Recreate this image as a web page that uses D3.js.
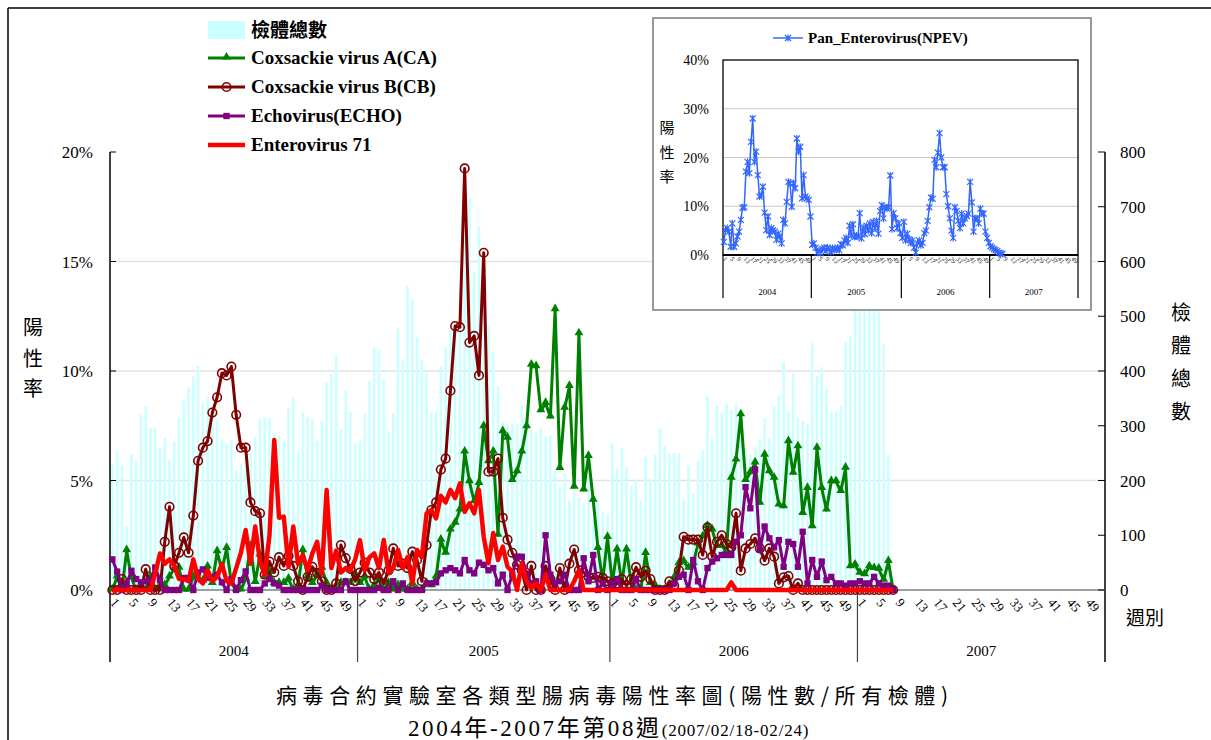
<!DOCTYPE html>
<html><head><meta charset="utf-8">
<script src="https://cdn.jsdelivr.net/npm/d3@7"></script>
<style>
body{margin:0;background:#fff;}
svg{display:block;}
</style></head><body>
<svg id="chart" width="1211" height="740"></svg>
<script>
// ---------- DATA ----------
const years = ["2004","2005","2006","2007"];
const weeksPerYear = [52,53,52,52];
const weekTicks = [1,5,9,13,17,21,25,29,33,37,41,45,49];
const leftTicks = [0,5,10,15,20];
const rightTicks = [0,100,200,300,400,500,600,700,800];
const insetTicks = [0,10,20,30,40];

// total specimens per week (right axis)
const specimens = [
 230,254,228,116,247,236,320,335,296,295,259,278,237,271,314,346,370,390,411,340,353,327,310,274,268,274,218,231,228,250,281,312,315,314,286,281,270,333,352,251,325,316,312,272,309,378,394,429,294,365,325,268,
 272,323,382,443,437,385,290,323,478,420,555,530,462,421,396,324,326,408,444,475,481,490,639,715,581,664,578,484,435,371,307,304,305,302,338,286,292,286,295,280,282,219,189,213,164,177,168,158,207,128,164,143,137,
 267,222,259,225,190,201,164,243,204,247,295,262,250,250,250,166,226,177,237,256,354,275,338,324,341,329,340,300,260,247,262,276,314,277,335,356,417,326,396,314,309,304,451,391,407,367,326,326,335,453,463,560,
 580,600,620,600,560,449,247,0
];
// positive rates (%)
const caRate = [
 0,0.6,0,1.8,0.55,0,0.2,0,0.6,0,0.2,0.2,0.6,1.0,1.0,0,0,0.6,0.55,0.4,1.05,0.3,1.75,0.9,1.9,0.3,0,0,0.5,2.0,0.35,1.6,0.6,0.8,0.3,0.3,0.3,0.5,0,0.2,1.8,0.6,0.3,0.7,1.0,0.3,0,0,0.3,0.3,0.3,0.7,
 0.3,0.6,0,0.2,0.5,0,0.3,0,0.2,0,0,0.3,0,0,0.3,0.2,0.6,2.28,1.68,2.74,3.05,3.65,6.3,4.95,4.03,4.87,7.46,5.86,6.3,2.5,7.23,6.93,5.0,5.4,6.3,7.46,10.27,10.2,8.19,8.52,7.9,12.8,5.55,8.3,9.3,4.7,11.7,4.57,6.1,4.1,1.9,0.4,2.4,
 0.3,1.83,0.3,1.83,0.3,0,0,1.67,0.3,0.2,0,0,0,0.55,1.2,1.3,1.0,1.2,2.1,2.43,2.9,2.74,2.0,2.0,1.8,5.1,5.94,8.0,5.0,5.36,5.8,3.96,6.16,5.4,5.1,3.88,3.8,6.77,5.33,6.54,3.5,4.64,2.89,6.47,4.64,3.65,4.95,4.95,4.5,5.56,1.06,1.14,
 0.77,0.7,1.06,0.98,0.95,0.45,1.3,0
];
const cbRate = [
 0,0,0.5,0,0,0,0,0.95,0,0,0,2.2,3.8,1.1,1.7,2.4,1.7,3.4,5.9,6.5,6.8,8.1,8.8,9.9,9.8,10.2,8.0,6.5,6.5,4.0,3.6,3.5,0.7,1.3,0.8,1.5,1.1,1.55,1.1,0.4,0,0.6,1.06,0.77,0.4,0,0,0.3,2.05,1.46,0.96,0.4,
 0.8,1.25,0.8,0.5,0.8,0.3,0.9,1.9,1.1,1.2,1.0,1.75,1.37,0.4,2.05,3.65,4.0,5.5,6.0,9.1,12.05,12.0,19.25,11.3,11.6,9.8,15.4,5.4,5.4,6.0,3.3,2.3,1.7,1.15,0.9,0,1.1,0,0,1.1,0.5,0,1.0,0,1.2,1.85,0.9,0.8,0.6,0.55,0.6,0.55,0.4,
 0.3,0.3,0.5,0.2,0.5,1.04,0.6,0.88,0.5,0,0,0,0.4,0.2,0.9,2.43,2.3,2.3,2.3,1.6,2.86,1.52,2.2,2.5,2.1,1.95,3.5,0.88,1.9,2.1,2.36,1.9,1.34,1.9,1.52,0.3,0.58,0.64,0,0.3,0,0,0,0,0,0,0,0,0,0,0,0,
 0,0,0,0,0,0,0,0
];
const echoRate = [
 1.4,0.84,0,0.3,0.88,0.5,0.35,0.4,0.45,1.03,0.45,0,0,0,0,0.55,0.55,0,0.8,0.94,0.55,0.6,0.7,0.35,0,0.5,0,0.45,0.85,0,0,0,0.3,0.5,0.3,0.2,0,0,0,0,0,0,0,0,0.2,0,0,0,0,0.4,0,0,
 0,0,0,0,0.1,0,0,0.4,0,0.3,0,0,0,0,0.3,0.3,0.35,0.76,0.9,1.0,0.9,0.76,1.37,0.9,0.76,1.25,1.15,0.9,1.0,0.3,0.7,0,0.7,1.52,1.52,0.75,0.3,0.4,0,2.5,0.7,0.3,0.4,0.7,0,0,0,1.45,0.4,1.6,0,0.3,0,
 0.3,0.5,0,0,0,0.5,0,0,0,0,0,0,0,0.3,0.6,0.7,0,1.37,0.4,0,1.0,1.3,1.45,1.6,1.6,1.6,2.2,2.5,4.7,3.73,5.5,1.83,2.9,2.36,1.95,2.28,1.06,2.2,2.1,1.06,2.66,0.3,1.37,0.6,1.3,0.45,0.6,0.3,0.3,0.2,0.3,0.3,
 0.4,0.3,0.3,0.6,0.3,0.2,0.2,0
];
const ev71Rate = [
 0,0,0,0,0,0,0,0,0,0.75,1.67,1.2,1.4,1.1,0.5,0.5,0.4,1.4,0.5,0.3,0.9,0.4,0.6,1.2,0.4,0.3,1.0,1.7,2.74,1.2,2.9,1.3,0.7,2.5,6.85,3.3,3.35,1.06,2.9,1.2,1.6,0.9,1.67,2.2,0.75,4.57,1.0,1.8,0.8,1.0,0.9,1.4,
 2.28,0.9,1.5,1.67,1.0,2.28,0.8,1.0,1.83,1.0,1.5,0.3,1.83,1.5,3.5,3.65,3.27,4.3,4.0,4.57,4.2,4.87,3.57,3.96,3.5,4.57,2.43,1.22,2.6,1.37,1.98,1.06,0.84,0,1.22,0.4,0.1,0.3,0,0.7,0,0,0,0,0,0.4,0.9,0,0,0,0,0,0,
 0,0,0,0,0,0,0,0,0,0,0,0,0,0,0,0,0,0,0,0,0,0,0,0,0,0.35,0,0,0,0,0,0,0,0,0,0,0,0,0,0,0,0,0,0,0,0,0,0,0,0,0,0,
 0,0,0,0,0,0,0,0
];
const npevRate = [
 2.7,5.1,5.5,4.8,1.7,6.5,1.7,2.4,3.8,4.8,7.2,9.7,9.8,17.1,19.1,16.8,23.2,28.0,19.1,21.2,16.4,12.0,12.3,14.0,8.7,5.1,7.9,4.1,5.5,5.1,4.8,3.1,4.4,3.8,2.4,7.2,6.5,10.9,15.0,14.7,9.9,14.7,13.7,23.9,21.2,22.2,11.6,16.4,12.0,11.6,11.3,7.9,
 2.1,2.4,1.5,0.5,1.0,0.4,1.2,1.5,0.8,1.5,1.2,0.6,1.4,1.0,1.2,1.5,1.0,2.2,2.0,3.0,3.5,2.5,6.0,4.0,6.3,3.7,4.0,3.8,8.6,3.4,5.6,4.3,6.0,5.0,6.5,4.5,6.8,5.5,7.0,4.4,9.0,10.2,7.5,9.8,9.5,9.8,16.3,5.3,8.6,7.5,5.5,6.5,4.5,
 3.5,6.8,3.0,4.4,3.2,2.5,3.0,1.5,0.5,2.5,3.0,2.0,2.5,4.5,5.0,7.0,9.8,11.8,11.5,19.5,18.0,21.0,25.0,20.0,18.0,18.0,12.5,10.0,7.5,5.0,3.5,9.8,9.0,7.0,5.5,8.5,6.5,7.5,8.0,8.5,15.0,10.8,4.8,7.5,7.5,6.5,9.5,8.5,8.5,4.8,3.5,2.5,
 1.8,1.5,1.2,1.0,0.8,0.5,0.3,0.2
];
const legendNames = ["檢體總數","Coxsackie virus A(CA)","Coxsackie virus B(CB)","Echovirus(ECHO)","Enterovirus 71"];
const titleLine1 = "病毒合約實驗室各類型腸病毒陽性率圖(陽性數/所有檢體)";
const titleLine2a = "2004年-2007年第08週";
const titleLine2b = "(2007/02/18-02/24)";

// ---------- CHART ----------
const svg = d3.select("#chart");
const SERIF = "'Liberation Serif','Times New Roman',serif";
const CJK = "'Noto Sans CJK TC','Noto Sans CJK SC',sans-serif";

const cats = [];
years.forEach((y, yi) => { for (let w = 1; w <= weeksPerYear[yi]; w++) cats.push({key: y + "-" + w, year: y, week: w}); });
const keys = cats.map(c => c.key);

const L = 110, R = 1105, T = 152, B = 590;
const x = d3.scaleBand().domain(keys).range([L, R]);
const cx = i => x(keys[i]) + x.bandwidth() / 2;
const yL = d3.scaleLinear().domain([0, 20]).range([B, T]);
const yR = d3.scaleLinear().domain([0, 800]).range([B, T]);

// outer frame
svg.append("line").attr("x1", 8).attr("x2", 1211).attr("y1", 8).attr("y2", 8).attr("stroke", "#000").attr("stroke-width", 1.5);
svg.append("line").attr("x1", 8).attr("x2", 8).attr("y1", 8).attr("y2", 740).attr("stroke", "#000").attr("stroke-width", 1.5);

// gridlines
svg.append("g").selectAll("line").data(leftTicks.filter(t => t > 0 && t < 20)).join("line")
  .attr("x1", L).attr("x2", R).attr("y1", d => yL(d)).attr("y2", d => yL(d))
  .attr("stroke", "#e2e2e2").attr("stroke-width", 1.5);

// bars
const bw = x.bandwidth() * 0.55;
svg.append("g").selectAll("rect").data(specimens).join("rect")
  .attr("x", (d, i) => cx(i) - bw / 2).attr("width", bw)
  .attr("y", d => yR(d)).attr("height", d => B - yR(d))
  .attr("fill", "#ccffff");

// axes
svg.append("line").attr("x1", L).attr("x2", L).attr("y1", T).attr("y2", 662).attr("stroke", "#000").attr("stroke-width", 1.5);
svg.append("line").attr("x1", R).attr("x2", R).attr("y1", T).attr("y2", 662).attr("stroke", "#000").attr("stroke-width", 1.5);
svg.append("line").attr("x1", L).attr("x2", R).attr("y1", B).attr("y2", B).attr("stroke", "#808080").attr("stroke-width", 1.5);

const gl = svg.append("g");
leftTicks.forEach(t => {
  gl.append("line").attr("x1", L).attr("x2", L + 6).attr("y1", yL(t)).attr("y2", yL(t)).attr("stroke", "#000");
  gl.append("text").attr("x", 93).attr("y", yL(t) + 6).attr("text-anchor", "end")
    .attr("font-family", SERIF).attr("font-size", 17).text(t + "%");
});
const gr = svg.append("g");
rightTicks.forEach(t => {
  gr.append("line").attr("x1", R - 7).attr("x2", R).attr("y1", yR(t)).attr("y2", yR(t)).attr("stroke", "#000");
  gr.append("text").attr("x", 1120).attr("y", yR(t) + 6).attr("text-anchor", "start")
    .attr("font-family", SERIF).attr("font-size", 17).text(t);
});

// vertical axis titles
["陽","性","率"].forEach((c, i) => svg.append("text").attr("x", 33).attr("y", 335 + i * 30.5)
  .attr("text-anchor", "middle").attr("font-family", CJK).attr("font-size", 20).text(c));
["檢","體","總","數"].forEach((c, i) => svg.append("text").attr("x", 1181).attr("y", 320 + i * 33)
  .attr("text-anchor", "middle").attr("font-family", CJK).attr("font-size", 20).text(c));
svg.append("text").attr("x", 1145).attr("y", 625).attr("text-anchor", "middle")
  .attr("font-family", CJK).attr("font-size", 19).text("週別");

// week labels + year dividers
const gx = svg.append("g");
cats.forEach((c, i) => {
  if (weekTicks.includes(c.week)) {
    gx.append("text").attr("transform", `translate(${cx(i) - 3},${603}) rotate(50)`)
      .attr("font-family", SERIF).attr("font-size", 13).attr("text-anchor", "start").text(c.week);
  }
});
years.forEach((y, yi) => {
  const first = keys.indexOf(y + "-1");
  const last = keys.indexOf(y + "-" + weeksPerYear[yi]);
  const x0 = x(keys[first]), x1 = x(keys[last]) + x.bandwidth();
  gx.append("line").attr("x1", x0).attr("x2", x0).attr("y1", B).attr("y2", 662).attr("stroke", "#444").attr("stroke-width", 1.2);
  gx.append("text").attr("x", (x0 + x1) / 2).attr("y", 656).attr("text-anchor", "middle")
    .attr("font-family", SERIF).attr("font-size", 15).text(y);
});

// series
const tri = d3.symbol().type(d3.symbolTriangle).size(34)();
const sq = d3.symbol().type(d3.symbolSquare).size(40)();
const seriesDefs = [
  {vals: caRate, color: "#008000", w: 3, mk: "tri"},
  {vals: cbRate, color: "#800000", w: 3, mk: "circ"},
  {vals: echoRate, color: "#800080", w: 3, mk: "sq"},
  {vals: ev71Rate, color: "#ff0000", w: 4.5, mk: null}
];
function drawMarker(g, mk, color, px, py) {
  if (mk === "tri") g.append("path").attr("d", tri).attr("transform", `translate(${px},${py - 1})`).attr("fill", color);
  else if (mk === "sq") g.append("path").attr("d", sq).attr("transform", `translate(${px},${py})`).attr("fill", color);
  else if (mk === "circ") g.append("circle").attr("cx", px).attr("cy", py).attr("r", 4.3).attr("fill", "none").attr("stroke", color).attr("stroke-width", 1.6);
}
const line = d3.line().x((d, i) => cx(i)).y(d => yL(d));
seriesDefs.forEach(s => {
  const g = svg.append("g");
  g.append("path").datum(s.vals).attr("d", line).attr("fill", "none")
    .attr("stroke", s.color).attr("stroke-width", s.w).attr("stroke-linejoin", "round");
  if (s.mk) s.vals.forEach((v, i) => drawMarker(g, s.mk, s.color, cx(i), yL(v)));
});

// legend
const lg = svg.append("g");
const legY = [30, 58, 87, 116, 145];
lg.append("rect").attr("x", 208).attr("y", 21).attr("width", 37).attr("height", 18).attr("fill", "#ccffff");
lg.append("text").attr("x", 251).attr("y", legY[0] + 7).attr("font-family", CJK).attr("font-weight", "bold")
  .attr("font-size", 19).text(legendNames[0]);
seriesDefs.forEach((s, k) => {
  const yy = legY[k + 1];
  lg.append("line").attr("x1", 208).attr("x2", 245).attr("y1", yy).attr("y2", yy).attr("stroke", s.color).attr("stroke-width", s.w);
  if (s.mk) drawMarker(lg, s.mk, s.color, 226.5, yy);
  lg.append("text").attr("x", 251).attr("y", yy + 6).attr("font-family", SERIF).attr("font-weight", "bold")
    .attr("font-size", 19).text(legendNames[k + 1]);
});

// ---------- INSET ----------
const ig = svg.append("g");
ig.append("rect").attr("x", 653).attr("y", 18).attr("width", 438).attr("height", 292)
  .attr("fill", "#fff").attr("stroke", "#9a9a9a").attr("stroke-width", 2);
const iL = 723, iR = 1078, iT = 60, iB = 255;
const xi = d3.scaleBand().domain(keys).range([iL, iR]);
const cxi = i => xi(keys[i]) + xi.bandwidth() / 2;
const yi = d3.scaleLinear().domain([0, 40]).range([iB, iT]);
insetTicks.forEach(t => {
  if (t > 0 && t < 40) ig.append("line").attr("x1", iL).attr("x2", iR).attr("y1", yi(t)).attr("y2", yi(t)).attr("stroke", "#c8c8c8");
  ig.append("text").attr("x", 709).attr("y", yi(t) + 5).attr("text-anchor", "end")
    .attr("font-family", SERIF).attr("font-size", 14).text(t + "%");
});
ig.append("rect").attr("x", iL).attr("y", iT).attr("width", iR - iL).attr("height", iB - iT)
  .attr("fill", "none").attr("stroke", "#000").attr("stroke-width", 1.3);
ig.append("line").attr("x1", iL).attr("x2", iR).attr("y1", iB).attr("y2", iB).attr("stroke", "#000").attr("stroke-width", 2);
["陽","性","率"].forEach((c, i) => ig.append("text").attr("x", 667).attr("y", 133 + i * 24.5)
  .attr("text-anchor", "middle").attr("font-family", CJK).attr("font-size", 15).text(c));
years.forEach((y, yi2) => {
  const first = keys.indexOf(y + "-1");
  const last = keys.indexOf(y + "-" + weeksPerYear[yi2]);
  const x0 = xi(keys[first]), x1 = xi(keys[last]) + xi.bandwidth();
  ig.append("line").attr("x1", x0).attr("x2", x0).attr("y1", iB).attr("y2", 298).attr("stroke", "#000").attr("stroke-width", 1.2);
  if (yi2 === years.length - 1) ig.append("line").attr("x1", x1).attr("x2", x1).attr("y1", iB).attr("y2", 298).attr("stroke", "#000").attr("stroke-width", 1.2);
  ig.append("text").attr("x", (x0 + x1) / 2).attr("y", 295).attr("text-anchor", "middle")
    .attr("font-family", SERIF).attr("font-size", 9).text(y);
});
cats.forEach((c, i) => {
  if (weekTicks.includes(c.week)) {
    ig.append("text").attr("transform", `translate(${cxi(i) - 1},${259}) rotate(50)`)
      .attr("font-family", SERIF).attr("font-size", 6.5).attr("text-anchor", "start").text(c.week);
  }
});
const star = "M-3,-3L3,3M-3,3L3,-3M0,-3.6L0,3.6";
const iline = d3.line().x((d, i) => cxi(i)).y(d => yi(d));
ig.append("path").datum(npevRate).attr("d", iline).attr("fill", "none").attr("stroke", "#3366ff").attr("stroke-width", 1.5);
npevRate.forEach((v, i) => ig.append("path").attr("d", star).attr("transform", `translate(${cxi(i)},${yi(v)})`)
  .attr("stroke", "#3366ff").attr("stroke-width", 1.2).attr("fill", "none"));
ig.append("line").attr("x1", 773).attr("x2", 803).attr("y1", 38).attr("y2", 38).attr("stroke", "#3366ff").attr("stroke-width", 1.5);
ig.append("path").attr("d", star).attr("transform", "translate(788,38)").attr("stroke", "#3366ff").attr("stroke-width", 1.2);
ig.append("text").attr("x", 808).attr("y", 43).attr("font-family", SERIF).attr("font-weight", "bold")
  .attr("font-size", 15).text("Pan_Enterovirus(NPEV)");

// ---------- TITLES ----------
svg.append("text").attr("x", 276).attr("y", 703).attr("font-family", CJK).attr("font-size", 21)
  .attr("letter-spacing", 5.6).text(titleLine1);
const t2 = svg.append("text").attr("x", 408).attr("y", 736);
t2.append("tspan").attr("font-family", SERIF + "," + CJK).attr("font-size", 23).attr("letter-spacing", 2.6).text(titleLine2a);
t2.append("tspan").attr("font-family", SERIF).attr("font-size", 17).attr("letter-spacing", 0.8).text(titleLine2b);
</script>
</body></html>
